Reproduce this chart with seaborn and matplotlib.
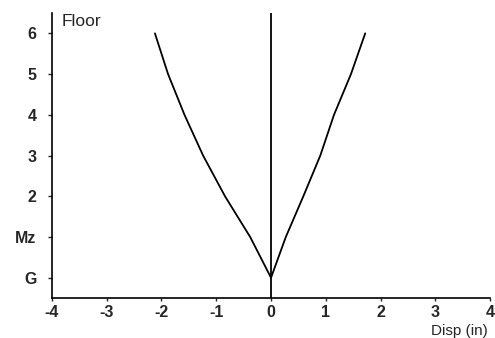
import pandas as pd
import seaborn as sns
import matplotlib.pyplot as plt

# storey labels, bottom to top
floors = ['G', 'Mz', '2', '3', '4', '5', '6']
levels = [0, 1, 2, 3, 4, 5, 6]

# displacement envelopes (in)
disp_neg = [0.0, -0.38, -0.84, -1.24, -1.58, -1.88, -2.12]
disp_pos = [0.0, 0.27, 0.59, 0.90, 1.15, 1.46, 1.72]

xticks = [-4, -3, -2, -1, 0, 1, 2, 3, 4]

dados = pd.DataFrame({
    'disp': disp_neg + disp_pos,
    'level': levels + levels,
    'side': ['neg'] * len(levels) + ['pos'] * len(levels),
})

sns.set_style('ticks')
plt.rcParams['font.family'] = ['Liberation Sans', 'DejaVu Sans']

fig = plt.figure(figsize=(4.95, 3.38), dpi=100)
ax = fig.add_axes([0.105, 0.118, 0.885, 0.8435])

sns.lineplot(data=dados, x='disp', y='level', hue='side', units='side',
             estimator=None, sort=False, palette=['black', 'black'],
             linewidth=1.3, legend=False, ax=ax)
ax.axvline(0, color='black', linewidth=1.3)

ax.set_xlim(-4, 4)
ax.set_ylim(-0.5, 6.5)
ax.set_xticks(xticks)
ax.set_xticklabels([str(t) for t in xticks], fontsize=11.5, fontweight='bold')
ax.set_yticks(levels)
ax.set_yticklabels(floors, fontsize=11.5, fontweight='bold')
ax.tick_params(axis='y', length=3, width=1, pad=8)
ax.tick_params(axis='x', length=2, width=1, pad=3)
ax.set_xlabel('')
ax.set_ylabel('')
sns.despine(ax=ax)
for s in ['left', 'bottom']:
    ax.spines[s].set_linewidth(1.2)
    ax.spines[s].set_color('black')

ax.text(0.023, 0.995, 'Floor', transform=ax.transAxes, ha='left', va='top',
        fontsize=12.5)
ax.text(0.995, -0.13, 'Disp (in)', transform=ax.transAxes, ha='right',
        va='baseline', fontsize=11)

fig.savefig('out.png', dpi=100)
